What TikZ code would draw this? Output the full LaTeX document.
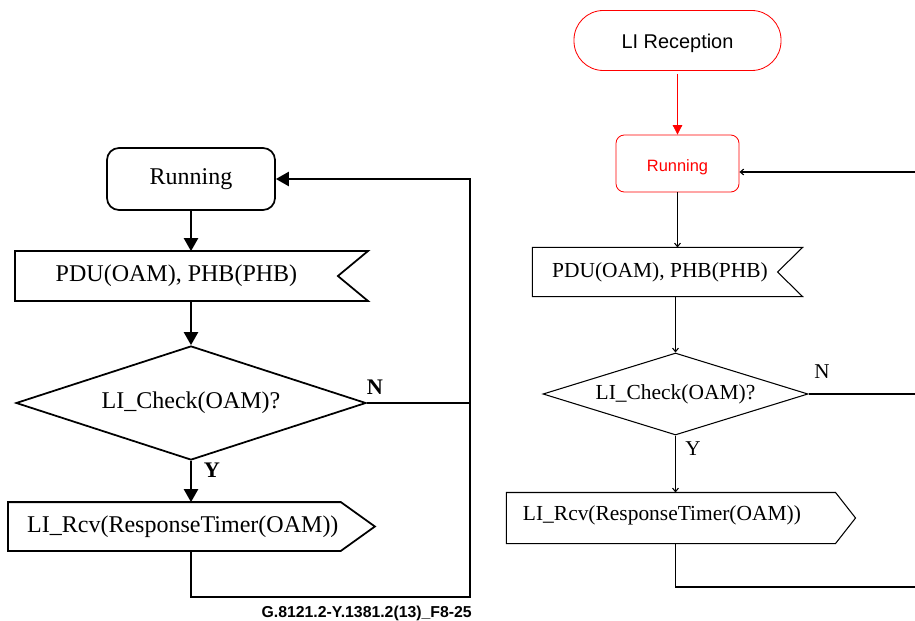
\documentclass[tikz,border=0pt]{standalone}
\usepackage{fontspec}
\setmainfont{Liberation Serif}
\newfontfamily\arialfont{Liberation Sans}
\usetikzlibrary{arrows.meta, shapes.geometric, calc}

\begin{document}
\begin{tikzpicture}[x=0.03cm, y=-0.03cm,
  sdl/.style={line width=1.5pt, inner sep=0pt, font=\fontsize{20.5}{24}\selectfont},
  sdlr/.style={line width=0.9pt, inner sep=0pt, font=\fontsize{18.3}{22}\selectfont},
  arrL/.style={-{Triangle[length=11pt,width=12pt]}, line width=1.5pt},
  arrR/.style={-{Straight Barb[length=3pt,width=5pt]}, line width=0.9pt},
  redbox/.style={draw=red, line width=0.7pt}]
  \useasboundingbox[fill=white] (0,0) rectangle (915,621);

  % left chart
  \node[sdl, draw, rounded corners=0.36cm, minimum width=5.04cm, minimum height=1.86cm] (run1) at (191,179) {Running};
  \node[sdl, minimum width=10.53cm, minimum height=1.44cm] (pdu1) at (191.5,276) {PDU(OAM), PHB(PHB)\kern0.9cm};
  \draw[sdl] (pdu1.north west) -- (pdu1.north east) -- ([xshift=-0.9cm]pdu1.east) -- (pdu1.south east) -- (pdu1.south west) -- cycle;
  \node[sdl, draw, diamond, aspect=3.07, minimum width=10.5cm, minimum height=3.42cm] (chk1) at (191,403) {LI\_Check(OAM)?};
  \node[sdl, minimum width=9.93cm, minimum height=1.41cm] (rcv1) at (174.5,526.5) {\kern0.5cm LI\_Rcv(ResponseTimer(OAM))};
  \draw[sdl] (rcv1.north west) -- (rcv1.north east) -- ([xshift=1.02cm]rcv1.east) -- (rcv1.south east) -- (rcv1.south west) -- cycle;
  \node[font=\fontsize{19}{22}\selectfont\bfseries, inner sep=0pt] (n1) at (375,387) {N};
  \node[font=\fontsize{19}{22}\selectfont\bfseries, inner sep=0pt] (y1) at (212,470) {Y};
  \coordinate (back1) at (470,597);

  \draw[arrL] (run1.south) -- (run1.south |- pdu1.north);
  \draw[arrL] (pdu1.south -| chk1.north) -- (chk1.north);
  \draw[arrL] (chk1.south) -- (chk1.south |- rcv1.north);
  \draw[arrL] (rcv1.south -| chk1.south) |- (back1) |- (run1.east);
  \draw[sdl] (chk1.east) -- (chk1.east -| back1);

  \node[anchor=east, inner sep=0pt, font=\arialfont\bfseries\fontsize{13.5}{16}\selectfont] (cap) at (472,613) {G.8121.2-Y.1381.2(13)\_F8-25};

  % right chart
  \node[redbox, rounded corners=0.88cm, minimum width=6.21cm, minimum height=1.8cm, font=\arialfont\fontsize{17}{20}\selectfont] (start) at (677.5,40.5) {\raisebox{-0.1cm}[\height][\depth]{LI Reception}};
  \node[redbox, rounded corners=0.25cm, minimum width=3.69cm, minimum height=1.71cm, text=red, font=\arialfont\fontsize{14}{17}\selectfont] (run2) at (677.5,163.5) {\raisebox{-0.1cm}[\height][\depth]{Running}};
  \node[sdlr, minimum width=8.07cm, minimum height=1.44cm] (pdu2) at (667.5,272) {PDU(OAM), PHB(PHB)\kern0.45cm};
  \draw[sdlr] (pdu2.north west) -- (pdu2.north east) -- ([xshift=-0.75cm]pdu2.east) -- (pdu2.south east) -- (pdu2.south west) -- cycle;
  \node[sdlr, draw, diamond, aspect=3.2, minimum width=7.95cm, minimum height=2.46cm] (chk2) at (675.5,394) {LI\_Check(OAM)?};
  \node[sdlr, text width=8.88cm, align=left, inner xsep=0.48cm, minimum height=1.5cm] (rcv2) at (671,518) {\raisebox{0.3cm}{LI\_Rcv(ResponseTimer(OAM))}};
  \draw[sdlr] (rcv2.north west) -- (rcv2.north east) -- ([xshift=0.6cm]rcv2.east) -- (rcv2.south east) -- (rcv2.south west) -- cycle;
  \node[font=\fontsize{18}{21}\selectfont, inner sep=0pt] (n2) at (822,372) {N};
  \node[font=\fontsize{18}{21}\selectfont, inner sep=0pt] (y2) at (693,449) {Y};
  \coordinate (in2) at (915,172);
  \coordinate (no2) at (915,394);
  \coordinate (out2) at (915,587);

  \draw[red, line width=0.7pt, -{Triangle[length=8pt,width=8pt]}] ([yshift=-0.09cm]start.south) -- (run2.north);
  \draw[arrR] (run2.south) -- (run2.south |- pdu2.north);
  \draw[arrR] (chk2.north |- pdu2.south) -- (chk2.north);
  \draw[arrR] (chk2.south) -- (chk2.south |- rcv2.north);
  \draw[arrR] (in2) -- (in2 -| run2.east);
  \draw[sdlr] (chk2.east) -- (no2);
  \draw[sdlr] (chk2.south |- rcv2.south) |- (out2);
\end{tikzpicture}
\end{document}
